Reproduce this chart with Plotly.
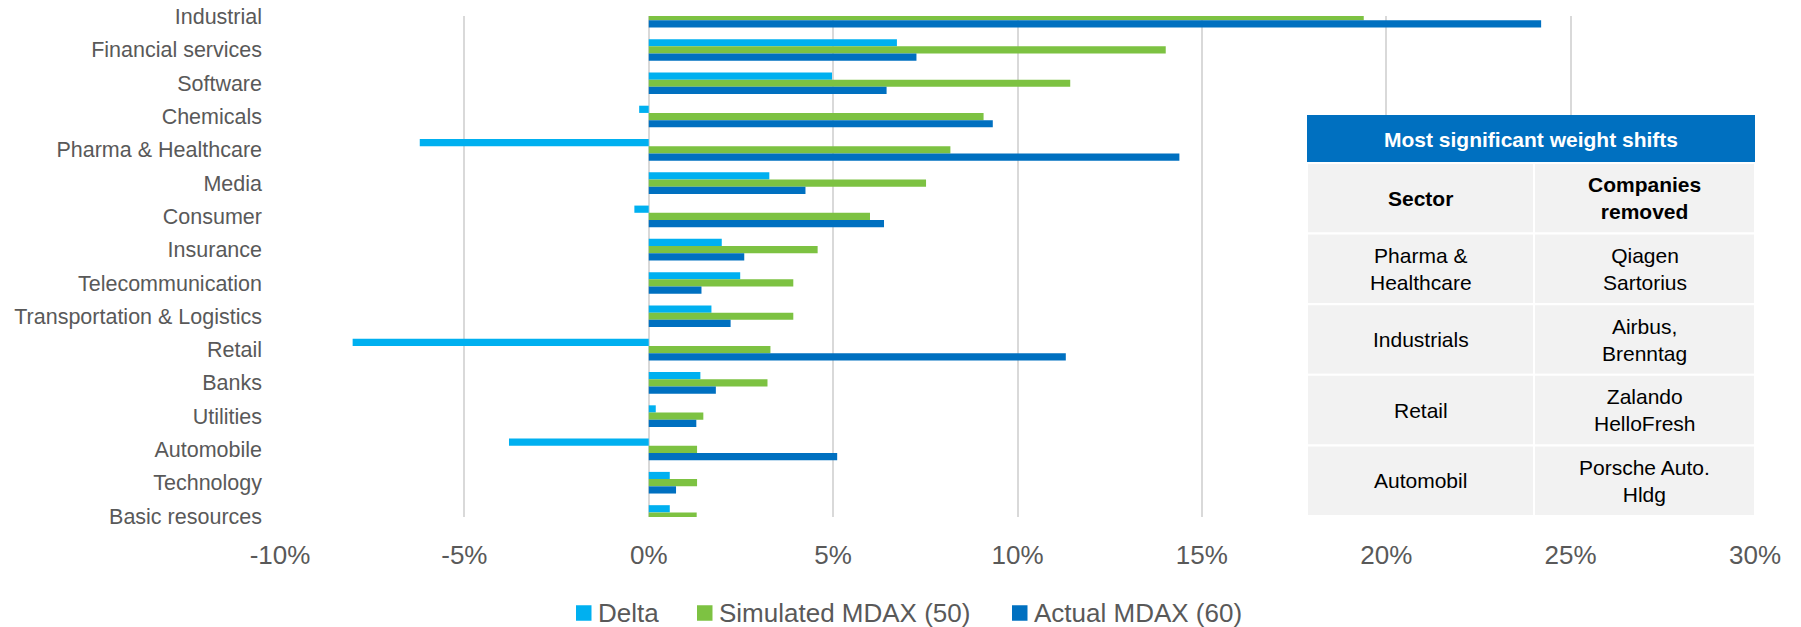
import plotly.graph_objects as go

categories = ["Industrial", "Financial services", "Software", "Chemicals", "Pharma & Healthcare",
              "Media", "Consumer", "Insurance", "Telecommunication", "Transportation & Logistics",
              "Retail", "Banks", "Utilities", "Automobile", "Technology", "Basic resources"]
delta = [None, 6.73, 4.97, -0.26, -6.21, 3.27, -0.39, 1.98, 2.48, 1.70, -8.03, 1.40, 0.19, -3.79, 0.57, 0.57]
simulated = [19.39, 14.02, 11.43, 9.08, 8.18, 7.52, 6.00, 4.58, 3.92, 3.92, 3.30, 3.22, 1.48, 1.31, 1.31, 1.30]
actual = [24.2, 7.26, 6.45, 9.33, 14.39, 4.25, 6.38, 2.59, 1.43, 2.22, 11.31, 1.82, 1.29, 5.11, 0.74, None]
x_ticks = [-10, -5, 0, 5, 10, 15, 20, 25, 30]
series_names = ["Delta", "Simulated MDAX (50)", "Actual MDAX (60)"]
series_colors = ["#00B0F0", "#7DC242", "#0070C0"]

table_title = "Most significant weight shifts"
table_head = ["Sector", "Companies<br>removed"]
table_sectors = ["Pharma &<br>Healthcare", "Industrials", "Retail", "Automobil"]
table_companies = ["Qiagen<br>Sartorius", "Airbus,<br>Brenntag", "Zalando<br>HelloFresh", "Porsche Auto.<br>Hldg"]

FONT = "Liberation Sans, Arial, sans-serif"
W, H = 1801, 627
L, R, T, B = 280, 1755, 16, 517

def xp(px):
    return (px - L) / (R - L)

def yp(py):
    return (B - py) / (B - T)

fig = go.Figure()
for name, vals, col in zip(series_names, [delta, simulated, actual], series_colors):
    fig.add_trace(go.Bar(y=categories, x=vals, orientation="h", name=name,
                         marker=dict(color=col, line=dict(width=0))))

shapes = []
annotations = []
# table header
shapes.append(dict(type="rect", xref="paper", yref="paper", x0=xp(1307), x1=xp(1755),
                   y0=yp(163), y1=yp(115), fillcolor="#0070C0", line=dict(width=0), layer="above"))
annotations.append(dict(xref="paper", yref="paper", x=xp(1531), y=yp(139), text="<b>" + table_title + "</b>",
                        showarrow=False, font=dict(family=FONT, size=21, color="white"),
                        xanchor="center", yanchor="middle"))
rows = [table_head] + [[s, c] for s, c in zip(table_sectors, table_companies)]
col_edges = [1307, 1534, 1755]
top = 163
row_h = (516 - 163) / len(rows)
for i, row in enumerate(rows):
    y0 = top + i * row_h
    y1 = y0 + row_h
    for j, txt in enumerate(row):
        shapes.append(dict(type="rect", xref="paper", yref="paper", x0=xp(col_edges[j]), x1=xp(col_edges[j + 1]),
                           y0=yp(y1), y1=yp(y0), fillcolor="#F2F2F2", line=dict(color="white", width=2),
                           layer="above"))
        t = "<b>" + txt + "</b>" if i == 0 else txt
        annotations.append(dict(xref="paper", yref="paper", x=xp((col_edges[j] + col_edges[j + 1]) / 2),
                                y=yp((y0 + y1) / 2), text=t, showarrow=False,
                                font=dict(family=FONT, size=21, color="#000000"),
                                xanchor="center", yanchor="middle"))

# legend (drawn as squares + labels)
legend_x = [576, 697, 1012]
legend_y = 613
for name, col, lx in zip(series_names, series_colors, legend_x):
    shapes.append(dict(type="rect", xref="paper", yref="paper", x0=xp(lx), x1=xp(lx + 15.5),
                       y0=yp(legend_y + 7.75), y1=yp(legend_y - 7.75), fillcolor=col, line=dict(width=0)))
    annotations.append(dict(xref="paper", yref="paper", x=xp(lx + 19.5), y=yp(legend_y), text=name,
                            showarrow=False, font=dict(family=FONT, size=26, color="#595959"),
                            xanchor="left", yanchor="middle"))

fig.update_layout(
    width=W, height=H,
    margin=dict(l=L, r=W - R, t=T, b=H - B, pad=0, autoexpand=False),
    paper_bgcolor="white", plot_bgcolor="white",
    barmode="group", bargap=0.35, bargroupgap=0,
    font=dict(family=FONT, color="#595959"),
    showlegend=False,
    shapes=shapes, annotations=annotations,
)
fig.update_xaxes(range=[-10, 30], tickvals=x_ticks, ticktext=[f"{v}%" for v in x_ticks],
                 showgrid=True, gridcolor="#D9D9D9", gridwidth=1.5, zeroline=True,
                 zerolinecolor="#D9D9D9", zerolinewidth=1.5, showline=False, ticks="", automargin=False,
                 tickfont=dict(family=FONT, size=26, color="#595959"), ticklabelstandoff=20)
fig.update_yaxes(categoryorder="array", categoryarray=categories, range=[15.03, -0.02],
                 showgrid=False, zeroline=False, showline=False, ticks="", automargin=False,
                 tickfont=dict(family=FONT, size=21.5, color="#595959"), ticklabelstandoff=17)

fig.write_html("out.html")
